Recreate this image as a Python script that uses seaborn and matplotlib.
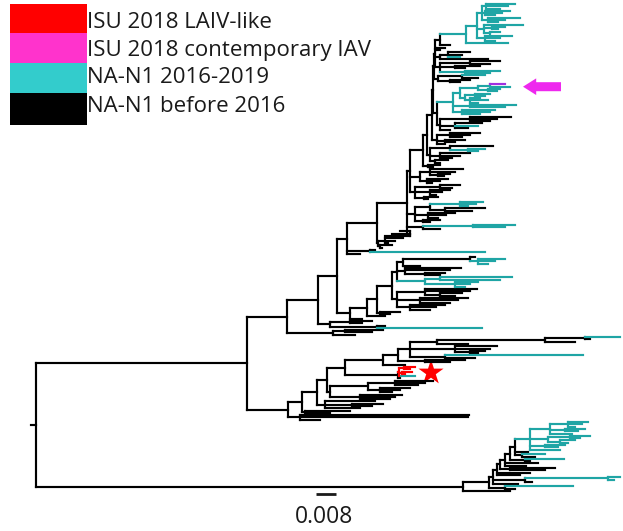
import re
import matplotlib
matplotlib.use("Agg")
import matplotlib.pyplot as plt
import seaborn as sns
from matplotlib.collections import LineCollection
from matplotlib.patches import Rectangle

# ---------------- data ----------------
# Divergence, in units of 0.0004 substitutions/site
# (the 0.008 scale bar = 20 units).  Tags: k=before 2016, t=2016-2019,
# r=ISU 2018 LAIV-like, m=ISU 2018 contemporary IAV.
DIV_UNIT = 0.0004

TT_UP = ("(((t:515,t:508,t:500):486,(t:510,t:502,t:495):485,(t:520,t:505,t:498):488):482,"
         "(t:523,(t:505,t:498):492,(t:500,t:490):490):484,(t:512,t:500,t:495):485):477")
TOP = "((" + TT_UP + ",t:508):466,k:450):440"
R2A = "(k:445,k:440):436"
R2B = "((k:470,k:462,t:460):448,k:488):440"
R2C = "((k:500,k:490):470,(k:480,k:465):455,(t:500,t:490):465):440"
R2D = "((t:485,k:478):462,(k:470,k:460):450):438"
R3_TEAL = ("((((m:505,t:510)t:490,(t:500,t:497):488)t:478,((t:490,t:485):475,(t:480,t:488,t:478):470):465)t:460,"
           "(t:516,t:505):470,(t:495,t:490,t:480):462)t:453")
R3_BLACK = "((k:511,k:497,k:490):470,(k:482,t:478,k:468):455,k:450):440"
R4A = "((k:480,k:470,k:462):450,(k:465,k:455):445,k:445):437"
R4B = "((k:493,(t:485,t:478):468):450,(k:470,k:460,k:452):440,(k:448,k:440):435):430"
R4C = "(k:440,k:433):428"
R5A = "((k:463,k:455,(k:450,k:444):438):430,(k:448,k:440,k:432):427):420"
R5B = "((k:460,k:452):440,(k:450,k:442,k:436):430,(k:438,k:428):424):415"
R6 = "(((t:483,t:476,t:468):460,(k:485,k:472):445):430,(k:455,k:446,k:438):428,(k:440,k:430):423):415"
R7 = "((t:515,t:505):473,k:440):423"
R7B = "(k:400,k:392,k:385):410"
BUSH8A = "((k:403,k:395,k:388):385,(k:392,k:382):380):378"
BUSH8B = "(k:375,t:485):370"
R9_TOP = "((k:475,(t:505,t:495,t:488):478):470,k:420):403"
R9_MID = "(k:461,k:450,(k:445,k:440):425):405"
R9_TEAL = "((t:512,t:500):440,(t:478,t:470,t:465):455):425"
R9_LOW = "((k:477,k:470,(k:462,k:455):440):425,(k:468,k:458,k:450):420,(k:445,k:436,k:430):410):397"
A1A2 = "((k:372,k:362):350,(k:385,t:482):377):330"
A1B = "((k:383,k:372):345,k:355):333"
A2_LONG = "(((t:620,k:590):585,k:575):545,k:468):437"
A2_UPB = "(k:497,k:490,(k:485,k:478):470):455"
A2_UPC = "(t:583,k:475):445"
A2_UPD = "(k:465,k:450):425"
RED = "(((r:415,r:410):404,(r:412,r:405):402,t:415)r:399,k:400):398"
LA = "(((k:433,k:425,k:418):395,(k:410,k:400,k:392):380):368,(k:402,k:395,k:390):360):330"
LB = "(k:375,(k:383,k:372):352,k:360):325"
A2_LOW = "(k:350,k:330):305"
A2_BOT = "(k:469,k:468,k:320):300"
TB = ("(((t:588,t:582,t:575):568,(t:585,t:578):565,t:572):550,((t:590,t:580):570,(t:575,t:568):560):548,"
      "(t:565,t:558):545,t:560):530")


def clade(*parts, at, tag=""):
    return "(" + ",".join(parts) + ")" + tag + ":" + str(at)


T_H = clade(clade(clade(TOP, R2A, R2B, R2C, at=435), R2D, at=434), clade(R3_TEAL, R3_BLACK, at=437), at=433)
T_D = clade(clade(clade(clade(T_H, R4A, at=432), R4B, at=427), R4C, at=423), R5A, R5B, at=410)
T_A = clade(clade(clade(T_D, R6, R7, R7B, at=407), BUSH8A, at=377), BUSH8B, "k:360", at=347)
R9 = clade(clade(clade(clade(clade(R9_TOP, R9_MID, R9_TEAL, at=397), R9_LOW, at=392),
                         "(k:400,k:390):380", at=377), "k:385", at=367), "k:362", at=350)
A1 = clade(clade(clade(T_A, R9, at=337), A1A2, at=318), A1B, at=287)
A2_UP = clade(clade(clade(A2_LONG, A2_UPB, A2_UPC, at=410), A2_UPD, at=398), "k:405", at=383)
A2 = clade(clade(clade(clade(clade(A2_UP, RED, at=345), LA, at=327), LB, at=317), A2_LOW, at=302), A2_BOT, at=288)
A = clade(A1, A2, at=247)
B = clade(clade(clade(clade(clade(clade(clade(clade(TB, "k:528", "(t:545,k:535):522", at=515),
                                                  "(t:564,k:530):525", at=510), "k:538", "k:526", at=505),
                                      "(k:555,k:545):510", at=500), "k:530", "k:520", at=497),
                        "((t:620,t:614):608,k:532):525", "k:518", at=493), "(t:573,k:515):505", at=489),
          "k:510", at=463)
TREE = clade(A, B, at=36)

LEG_LABELS = ["ISU 2018 LAIV-like", "ISU 2018 contemporary IAV", "NA-N1 2016-2019", "NA-N1 before 2016"]
LEG_COLORS = ["#FF0000", "#FF33CC", "#33CCCC", "#000000"]
TREE_COLORS = {"k": "#000000", "t": "#1FA5A5", "r": "#FF0000", "m": "#A030E0"}
SCALE_LEN = 0.008


# ---------------- parse & layout ----------------
def parse(s):
    toks = re.findall(r"\(|\)|,|[a-z]?:\d+(?:\.\d+)?", s)
    pos = [0]

    def node():
        if toks[pos[0]] == "(":
            pos[0] += 1
            kids = [node()]
            while toks[pos[0]] == ",":
                pos[0] += 1
                kids.append(node())
            pos[0] += 1  # ')'
            c, d = toks[pos[0]].split(":")
            pos[0] += 1
            return {"kids": kids, "col": c or None, "x": float(d) * DIV_UNIT}
        c, d = toks[pos[0]].split(":")
        pos[0] += 1
        return {"kids": [], "col": c, "x": float(d) * DIV_UNIT}

    return node()


root = parse(TREE)
tips = []


def layout(n):
    if not n["kids"]:
        n["y"] = len(tips)
        tips.append(n)
        n["set"] = {n["col"]}
        n["c"] = n["col"]
        return
    for k in n["kids"]:
        layout(k)
    n["y"] = (n["kids"][0]["y"] + n["kids"][-1]["y"]) / 2
    n["set"] = set().union(*[k["set"] for k in n["kids"]])
    n["c"] = n["col"] or (next(iter(n["set"])) if len(n["set"]) == 1 else "k")


layout(root)
segs = {c: [] for c in TREE_COLORS}


def collect(n, px):
    segs[n["c"]].append([(px, n["y"]), (n["x"], n["y"])])
    if n["kids"]:
        segs[n["c"]].append([(n["x"], n["kids"][0]["y"]), (n["x"], n["kids"][-1]["y"])])
        for k in n["kids"]:
            collect(k, n["x"])


collect(root, root["x"] - 5 * DIV_UNIT)

# ---------------- draw ----------------
sns.set_theme(style="white")
plt.rcParams["font.family"] = ["Open Sans", "DejaVu Sans"]

W, H = 623, 531
fig = plt.figure(figsize=(W / 100, H / 100), dpi=100)
ax = fig.add_axes([0, 0, 1, 1])
ax.axis("off")

Y0, Y1 = 4, 491
sp = (Y1 - Y0) / (len(tips) - 1)
ax.set_xlim(0, W * DIV_UNIT)
ax.set_ylim((H - Y0) / sp, -Y0 / sp)

for c in ["k", "t", "r", "m"]:
    ax.add_collection(LineCollection(segs[c], colors=TREE_COLORS[c], linewidths=1.55, capstyle="projecting"))

# red star next to the LAIV-like clade
red_tips = [t for t in tips if t["col"] == "r"]
sx = max(t["x"] for t in red_tips) + 16 * DIV_UNIT
sy = sum(t["y"] for t in red_tips) / len(red_tips) + 1
sns.scatterplot(x=[sx], y=[sy], marker="*", s=360, color="#FF0000", edgecolor="none", ax=ax, legend=False)

# magenta arrow pointing at the contemporary IAV
mag = [t for t in tips if t["col"] == "m"][0]
hx = mag["x"] + 18 * DIV_UNIT
ay = mag["y"] + 1.0
ax.annotate("", xy=(hx, ay), xytext=(hx + 38 * DIV_UNIT, ay),
            arrowprops=dict(arrowstyle="simple,head_length=0.95,head_width=1.2,tail_width=0.65",
                            color="#EE28EE", mutation_scale=10, shrinkA=0, shrinkB=0, lw=0))

# scale bar
bx0 = 316 * DIV_UNIT
by = (494 - Y0) / sp
ax.plot([bx0, bx0 + SCALE_LEN], [by, by], color="#1a1a1a", lw=2.0, solid_capstyle="butt")
fig.text(324.5 / W, 1 - 523 / H, f"{SCALE_LEN:.3f}", ha="center", va="baseline", fontsize=16.5, color="#1a1a1a")

# legend
rows = [4, 33, 63, 93, 125]
baselines = [28, 56, 83, 112]
for i, (lab, col) in enumerate(zip(LEG_LABELS, LEG_COLORS)):
    fig.patches.append(Rectangle((10 / W, 1 - rows[i + 1] / H), 77 / W, (rows[i + 1] - rows[i]) / H,
                                 transform=fig.transFigure, facecolor=col, edgecolor="none"))
    fig.text(87 / W, 1 - baselines[i] / H, lab, ha="left", va="baseline", fontsize=16, color="#1a1a1a")

fig.savefig("out.png", dpi=100)
